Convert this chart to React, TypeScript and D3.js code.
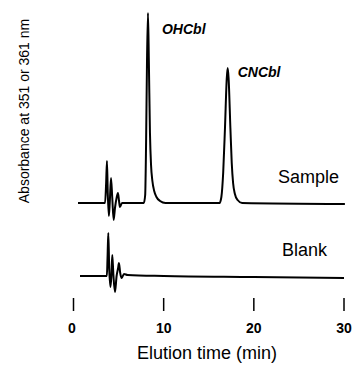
import React, { useEffect, useRef } from "react";
import * as d3 from "d3";

// retention time (min) and signal (arbitrary absorbance units, baseline = 0)
const sampleTime = [0.5, 3.5, 3.62, 3.71, 3.8, 3.92, 4.02, 4.16, 4.3, 4.45, 4.6, 4.8, 4.93, 5.05, 5.15, 5.38,
  7.8, 7.95, 8.05, 8.15, 8.26, 8.36, 8.48, 8.6, 8.75, 8.95, 9.2, 9.6, 10.2,
  16.2, 16.4, 16.6, 16.8, 17.0, 17.1, 17.2, 17.4, 17.55, 17.7, 17.9, 18.2, 18.7, 30.1];
const sampleSignal = [0, 0, 20, 42, 10, -13, 0, 25, 5, -17, -5, 6, 10, 2, -4, 0,
  0, 8, 60, 140, 190, 140, 70, 38, 22, 12, 6, 2, 0,
  0, 6, 30, 75, 125, 135, 125, 75, 40, 20, 9, 3, 0, -1];

const blankTime = [0.72, 3.7, 3.78, 3.86, 3.96, 4.1, 4.2, 4.3, 4.42, 4.6, 4.78, 4.95, 5.04, 5.18, 5.34, 5.6, 6.0, 10, 20, 30];
const blankSignal = [0, 0, 20, 43, 8, -11, 0, 21, 2, -16, 0, 8, 13, 3, -2, 2, 1, 0, -1, -2];

const traces = ["Sample", "Blank"];
const xTicks = [0, 10, 20, 30];
const peakNames = ["OHCbl", "CNCbl"];
const peakTimes = [8.26, 17.1];
const peakHeights = [190, 135];

const W = 355;
const H = 367;

export default function App() {
  const ref = useRef<SVGSVGElement>(null);

  useEffect(() => {
    const svg = d3.select(ref.current);
    svg.selectAll("*").remove();

    const x = d3.scaleLinear().domain([0, 30]).range([73.5, 344]);
    const base = d3.scalePoint<string>().domain(traces).range([203, 276]);
    const amp = d3.scaleLinear().domain([0, 190]).range([0, -190]);

    const font = "'Liberation Sans', Arial, Helvetica, sans-serif";

    const series = [
      { name: "Sample", t: sampleTime, v: sampleSignal },
      { name: "Blank", t: blankTime, v: blankSignal },
    ];

    series.forEach(s => {
      const pts = s.t.map((t, i) => [t, s.v[i]] as [number, number]);
      const line = d3.line<[number, number]>()
        .x(d => x(d[0]))
        .y(d => base(s.name)! + amp(d[1]))
        .curve(d3.curveMonotoneX);
      svg.append("path")
        .datum(pts)
        .attr("fill", "none")
        .attr("stroke", "#000")
        .attr("stroke-width", 2)
        .attr("stroke-linejoin", "round")
        .attr("d", line);
    });

    // trace labels
    const labelX = [278, 282];
    svg.selectAll("text.trace")
      .data(traces)
      .enter()
      .append("text")
      .attr("class", "trace")
      .attr("x", (d, i) => labelX[i])
      .attr("y", d => base(d)! - 20)
      .attr("font-family", font)
      .attr("font-size", 18)
      .attr("fill", "#000")
      .text(d => d);

    // peak labels
    svg.selectAll("text.peak")
      .data(peakNames)
      .enter()
      .append("text")
      .attr("class", "peak")
      .attr("x", (d, i) => x(peakTimes[i]) + (i === 0 ? 14 : 10))
      .attr("y", (d, i) => base("Sample")! + amp(peakHeights[i]) + (i === 0 ? 21 : 9))
      .attr("font-family", font)
      .attr("font-size", 14)
      .attr("font-style", "italic")
      .attr("font-weight", "bold")
      .attr("fill", "#000")
      .text(d => d);

    // x axis: ticks only, no line
    const axis = svg.append("g");
    axis.selectAll("line")
      .data(xTicks)
      .enter()
      .append("line")
      .attr("x1", d => x(d))
      .attr("x2", d => x(d))
      .attr("y1", 298)
      .attr("y2", 311)
      .attr("stroke", "#000")
      .attr("stroke-width", 1.5);
    axis.selectAll("text")
      .data(xTicks)
      .enter()
      .append("text")
      .attr("x", d => x(d) - (d === 0 ? 1.5 : 0))
      .attr("y", 333)
      .attr("text-anchor", "middle")
      .attr("font-family", font)
      .attr("font-size", 14)
      .attr("font-weight", "bold")
      .text(d => d);

    svg.append("text")
      .attr("x", 207)
      .attr("y", 359)
      .attr("text-anchor", "middle")
      .attr("font-family", font)
      .attr("font-size", 18)
      .text("Elution time (min)");

    svg.append("text")
      .attr("transform", "translate(29,111) rotate(-90)")
      .attr("text-anchor", "middle")
      .attr("font-family", font)
      .attr("font-size", 14)
      .text("Absorbance at 351 or 361 nm");
  }, []);

  return (
    <svg
      ref={ref}
      width={W}
      height={H}
      style={{ position: "absolute", left: 0, top: 0, background: "#fff" }}
    />
  );
}
